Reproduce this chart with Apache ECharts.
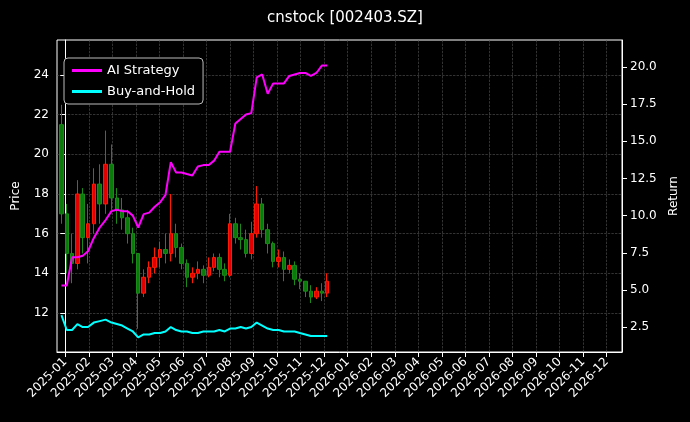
<!DOCTYPE html>
<html>
<head>
<meta charset="utf-8">
<script src="https://cdn.jsdelivr.net/npm/echarts@6/dist/echarts.min.js"></script>
<style>html,body{margin:0;padding:0;background:#000;}#chart{width:690px;height:422px;}</style>
</head>
<body>
<div id="chart"></div>
<script>
// weekly bars, starting 2024-12-27
var startDate = [2024, 11, 27];
// open, close, low, high
var ohlc = [
  [21.5,17,16.5,22.5],[17,15,14,17.5],[15,14.5,13.5,16],[14.5,18,14.2,18.7],[18,15.8,15,18.3],
  [15.8,16.5,14.5,17.5],[16.5,18.5,16,19.3],[18.5,17.5,16.5,19.5],[17.5,19.5,17,21.2],[19.5,17.8,17.2,20.5],
  [17.8,17.2,16.5,18.3],[17.2,16.8,16.2,17.8],[16.8,16,15.5,17.2],[16,15,14.5,16.3],[15,13,11.2,15],
  [13,13.8,12.8,14.2],[13.8,14.3,13.5,14.6],[14.3,14.8,14,15.3],[14.8,15.2,14.3,15.6],[15.2,15,14.5,16],
  [15,16,14.6,18],[16,15.3,14.8,16.5],[15.3,14.5,14.2,15.5],[14.5,13.8,13.3,14.7],[13.8,14,13.5,14.3],
  [14,14.2,13.7,14.6],[14.2,13.9,13.5,14.4],[13.9,14.3,13.8,14.8],[14.3,14.8,14.1,15],[14.8,14.2,13.8,15],
  [14.2,13.9,13.6,14.5],[13.9,16.5,13.8,17],[16.5,15.8,15.5,16.8],[15.8,15.7,15.2,16.5],[15.7,15,14.8,16.2],
  [15,16,14.7,16.6],[16,17.5,15.8,18.4],[17.5,16.2,15.8,17.8],[16.2,15.5,15,16.5],[15.5,14.6,14.3,15.6],
  [14.6,14.8,14.3,15.2],[14.8,14.2,13.6,15.1],[14.2,14.4,14,14.7],[14.4,13.7,13.4,14.6],[13.7,13.6,13.2,14],
  [13.6,13.1,12.8,13.6],[13.1,12.8,12.5,13.4],[12.8,13.1,12.7,13.3],[13.1,13,12.6,13.5],[13,13.6,12.8,14]
];
var aiReturn = [5.3,5.3,7.2,7.2,7.3,7.6,8.5,9.2,9.7,10.3,10.4,10.3,10.3,10.0,9.2,10.1,10.2,10.6,10.9,11.4,
  13.6,12.9,12.9,12.8,12.7,13.3,13.4,13.4,13.7,14.3,14.3,14.3,16.2,16.5,16.8,16.9,19.3,19.5,18.2,18.9,
  18.9,18.9,19.4,19.5,19.6,19.6,19.4,19.6,20.1,20.1];
var bhReturn = [3.3,2.3,2.3,2.7,2.5,2.5,2.8,2.9,3.0,2.8,2.7,2.6,2.4,2.2,1.8,2.0,2.0,2.1,2.1,2.2,
  2.5,2.3,2.2,2.2,2.1,2.1,2.2,2.2,2.2,2.3,2.2,2.4,2.4,2.5,2.4,2.5,2.8,2.6,2.4,2.3,
  2.3,2.2,2.2,2.2,2.1,2.0,1.9,1.9,1.9,1.9];
var priceTicks = [12, 14, 16, 18, 20, 22, 24];
var returnTicks = [2.5, 5, 7.5, 10, 12.5, 15, 17.5, 20];

// x is months since 2025-01-01
function monthPos(t) {
  var d = new Date(t);
  var y = d.getUTCFullYear(), m = d.getUTCMonth();
  var dim = new Date(Date.UTC(y, m + 1, 0)).getUTCDate();
  return (y - 2025) * 12 + m + (d.getUTCDate() - 1) / dim;
}
var t0 = Date.UTC(startDate[0], startDate[1], startDate[2]);
var week = 7 * 24 * 3600 * 1000;
var xs = ohlc.map(function (d, i) { return monthPos(t0 + i * week); });
var monthTicks = [];
for (var m = 0; m < 24; m++) monthTicks.push(m);

var candleData = ohlc.map(function (d, i) { return [xs[i], d[0], d[1], d[2], d[3]]; });
var aiData = aiReturn.map(function (v, i) { return [xs[i], v]; });
var bhData = bhReturn.map(function (v, i) { return [xs[i], v]; });

var chart = echarts.init(document.getElementById('chart'));
var axisText = { color: '#fff', fontSize: 12, fontFamily: 'DejaVu Sans' };
var split = { show: true, lineStyle: { color: '#555', type: 'dashed', width: 0.6 } };

var option = {
  backgroundColor: '#000',
  animation: false,
  title: {
    text: 'cnstock [002403.SZ]', left: 'center', top: 6,
    textStyle: { color: '#fff', fontSize: 15, fontWeight: 'normal', fontFamily: 'DejaVu Sans' }
  },
  legend: {
    left: 64, top: 58, orient: 'vertical', itemGap: 8,
    backgroundColor: '#000', borderColor: '#bbb', borderWidth: 1, borderRadius: 4, padding: [6, 8],
    itemWidth: 30, itemHeight: 3,
    textStyle: { color: '#fff', fontSize: 13, fontFamily: 'DejaVu Sans' },
    data: [{ name: 'AI Strategy', icon: 'rect' }, { name: 'Buy-and-Hold', icon: 'rect' }]
  },
  grid: { left: 57, right: 68, top: 40, bottom: 70, show: true, borderColor: '#fff', borderWidth: 1 },
  xAxis: {
    type: 'value', min: -0.35, max: 23.65,
    axisLine: { lineStyle: { color: '#fff' } },
    axisTick: { customValues: monthTicks, lineStyle: { color: '#fff' } },
    axisLabel: Object.assign({
      customValues: monthTicks, rotate: 45,
      formatter: function (v) { var k = Math.round(v); var mm = k % 12 + 1; return (2025 + Math.floor(k / 12)) + '-' + (mm < 10 ? '0' + mm : mm); }
    }, axisText),
    splitLine: split
  },
  yAxis: [{
    type: 'value', name: 'Price', nameLocation: 'middle', nameGap: 35,
    nameTextStyle: axisText, min: 10.03, max: 25.77,
    axisLine: { show: true, lineStyle: { color: '#fff' } },
    axisTick: { show: true, customValues: priceTicks },
    axisLabel: Object.assign({ customValues: priceTicks }, axisText),
    splitLine: split
  }, {
    type: 'value', name: 'Return', nameLocation: 'middle', nameGap: 40,
    nameTextStyle: axisText, min: 0.82, max: 21.82,
    axisLine: { show: true, lineStyle: { color: '#fff' } },
    axisTick: { show: true, customValues: returnTicks },
    axisLabel: Object.assign({
      customValues: returnTicks,
      formatter: function (v) { return v.toFixed(1); }
    }, axisText),
    splitLine: { show: false }
  }],
  series: [{
    type: 'candlestick', name: 'Price', yAxisIndex: 0, barWidth: 4,
    data: candleData,
    itemStyle: { color: '#e00000', color0: '#0a7a0a', borderColor: '#ff1a00', borderColor0: '#1a8a1a' }
  }, {
    type: 'line', name: 'AI Strategy', yAxisIndex: 1, data: aiData, showSymbol: false,
    lineStyle: { color: '#ff00ff', width: 2 }, itemStyle: { color: '#ff00ff' }
  }, {
    type: 'line', name: 'Buy-and-Hold', yAxisIndex: 1, data: bhData, showSymbol: false,
    lineStyle: { color: '#00ffff', width: 2 }, itemStyle: { color: '#00ffff' }
  }]
};
chart.setOption(option);
</script>
</body>
</html>
